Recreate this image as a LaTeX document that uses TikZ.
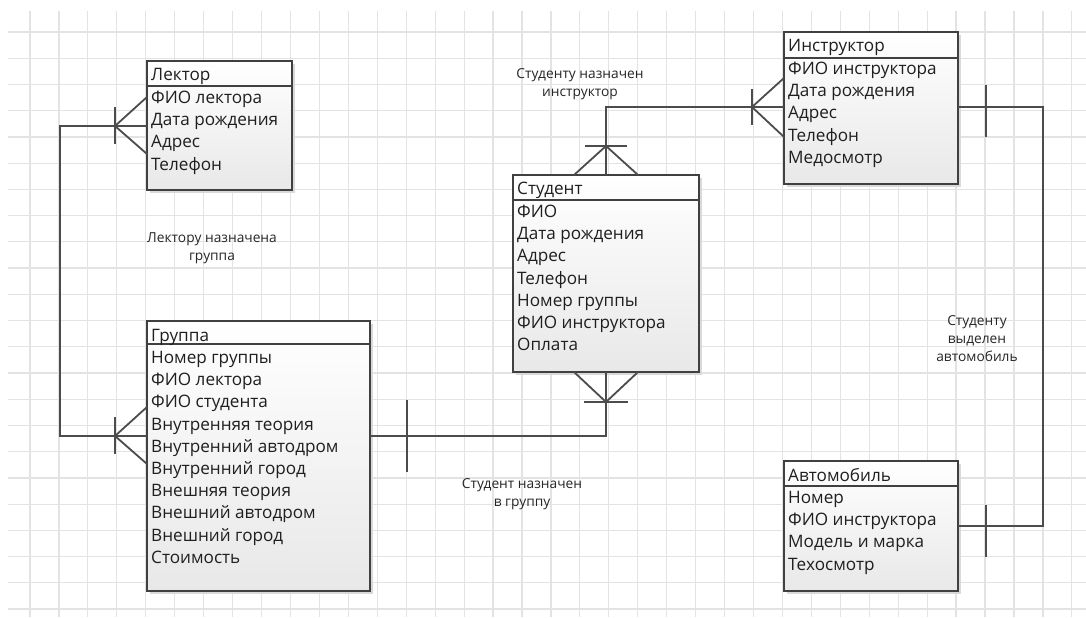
\documentclass[tikz,border=0pt]{standalone}
\usepackage{fontspec}
\setmainfont{Open Sans}
\usetikzlibrary{calc}
\tikzset{
  gridline/.style={draw=black!11, line width=1.2bp},
  entbox/.style={draw=black!75, line width=1.4bp, top color=white, bottom color=black!9,
    inner sep=0pt, outer sep=0pt, anchor=north west},
  entshadow/.style={fill=black!15},
  hdrline/.style={draw=black!75, line width=1.4bp},
  enttext/.style={anchor=base west, inner sep=0pt, font=\fontsize{17.2}{18}\selectfont, text=black!88},
  rel/.style={draw=black!70, line width=1.8bp},
  lbl/.style={font=\fontsize{13.8}{18}\selectfont, align=center, text=black!85, inner sep=0pt}
}
\newcommand{\erbox}[8]{%
  \fill[entshadow] (#2+3,#3+3) rectangle (#2+#4+3,#3+#5+3);
  \node[entbox, minimum width=#4 bp, minimum height=#5 bp] (#1) at (#2,#3) {};
  \draw[hdrline] ([yshift=-#6 bp]#1.north west) -- ([yshift=-#6 bp]#1.north east);
  \node[enttext] (#1-title) at (#2+4,#3+20) {#7};
  \foreach \r [count=\i] in {#8} {
    \node[enttext] (#1-row\i) at (#2+4,{#3+42.5+22.2*(\i-1)}) {\r};
  }%
}
\begin{document}
\begin{tikzpicture}[x=1bp,y=-1bp]
\useasboundingbox (0,0) rectangle (1086,618);
\fill[white] (0,0) rectangle (1086,618);
% grid
\foreach \k in {0,...,36} \draw[gridline] ({30+28.94*\k},11) -- ({30+28.94*\k},617);
\foreach \j in {0,...,22} \draw[gridline] (8,{32+26.23*\j}) -- (1086,{32+26.23*\j});

% entities
\erbox{lector}{147}{61}{145}{129}{25}{Лектор}{ФИО лектора,Дата рождения,Адрес,Телефон}
\erbox{group}{147}{321}{223}{270}{23}{Группа}{Номер группы,ФИО лектора,ФИО студента,Внутренняя теория,Внутренний автодром,Внутренний город,Внешняя теория,Внешний автодром,Внешний город,Стоимость}
\erbox{student}{513}{175}{186}{197}{25}{Студент}{ФИО,Дата рождения,Адрес,Телефон,Номер группы,ФИО инструктора,Оплата}
\erbox{instr}{784}{32}{174}{152}{26}{Инструктор}{ФИО инструктора,Дата рождения,Адрес,Телефон,Медосмотр}
\erbox{auto}{784}{461}{174}{130}{25}{Автомобиль}{Номер,ФИО инструктора,Модель и марка,Техосмотр}

% connection points
\coordinate (lecP) at ($(lector.north west)+(0,65)$);
\coordinate (lecA) at ($(lecP)+(-32,0)$);
\coordinate (grpP) at ($(group.north west)+(0,115)$);
\coordinate (grpA) at ($(grpP)+(-32,0)$);
\coordinate (grpE) at ($(group.north east)+(0,115)$);
\coordinate (stuB) at ($(student.south)+(0,30)$);
\coordinate (stuT) at ($(student.north)+(0,-29)$);
\coordinate (insP) at ($(instr.north west)+(0,75)$);
\coordinate (insA) at ($(insP)+(-32,0)$);
\coordinate (insE) at ($(instr.north east)+(0,75)$);
\coordinate (autE) at ($(auto.north east)+(0,65)$);

% Lector - Group
\draw[rel] (lecP) -- ++(-87,0) |- (grpP);
\draw[rel] ($(lecP)+(0,-29)$) -- (lecA) -- ($(lecP)+(0,28)$);
\draw[rel] ($(lecA)+(0,-19)$) -- ($(lecA)+(0,18)$);
\draw[rel] ($(grpP)+(0,-29)$) -- (grpA) -- ($(grpP)+(0,28)$);
\draw[rel] ($(grpA)+(0,-19)$) -- ($(grpA)+(0,18)$);

% Group - Student
\draw[rel] (grpE) -| (student.south);
\draw[rel] ($(grpE)+(37,-36)$) -- ($(grpE)+(37,36)$);
\draw[rel] ($(student.south)+(-32,0)$) -- (stuB) -- ($(student.south)+(32,0)$);
\draw[rel] ($(stuB)+(-22,0)$) -- ($(stuB)+(22,0)$);

% Student - Instructor
\draw[rel] (student.north) |- (insP);
\draw[rel] ($(student.north)+(-32,0)$) -- (stuT) -- ($(student.north)+(32,0)$);
\draw[rel] ($(stuT)+(-21,0)$) -- ($(stuT)+(21,0)$);
\draw[rel] ($(insP)+(0,-29)$) -- (insA) -- ($(insP)+(0,30)$);
\draw[rel] ($(insA)+(0,-18)$) -- ($(insA)+(0,18)$);

% Instructor - Auto
\draw[rel] (insE) -- ++(85,0) |- (autE);
\draw[rel] ($(insE)+(28,-22)$) -- ($(insE)+(28,30)$);
\draw[rel] ($(autE)+(28,-21)$) -- ($(autE)+(28,31)$);

% labels
\node[lbl] (l1) at (580,84) {Студенту назначен\\инструктор};
\node[lbl] (l2) at (212,248) {Лектору назначена\\группа};
\node[lbl] (l3) at (522,494) {Студент назначен\\в группу};
\node[lbl] (l4) at (977,339) {Студенту\\выделен\\автомобиль};
\end{tikzpicture}
\end{document}
